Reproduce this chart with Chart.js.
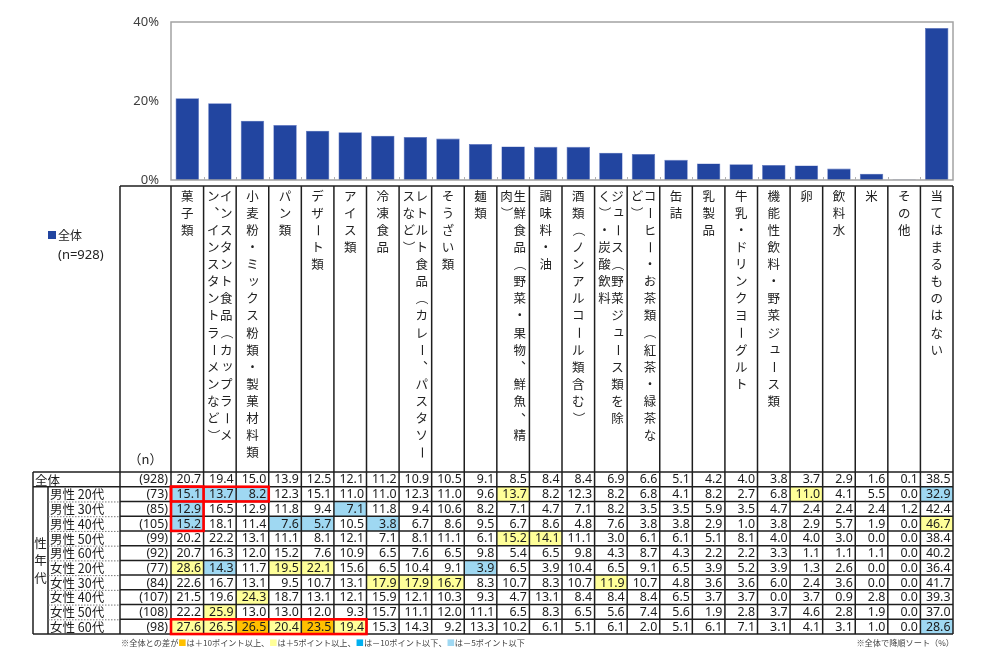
<!DOCTYPE html>
<html><head><meta charset="utf-8">
<script src="https://cdn.jsdelivr.net/npm/chart.js@4"></script>
<style>html,body{margin:0;padding:0;background:#fff}canvas{display:block}</style>
</head><body>
<canvas id="c" width="989" height="661"></canvas>
<script>
// ---------- DATA ----------
const categories = ['菓子類','インスタント食品（カップラーメン、インスタントラーメンなど）','小麦粉・ミックス粉類・製菓材料類','パン類','デザート類','アイス類','冷凍食品','レトルト食品（カレー、パスタソースなど）','そうざい類','麺類','生鮮食品（野菜・果物、鮮魚、精肉）','調味料・油','酒類（ノンアルコール類含む）','ジュース（野菜ジュース類を除く）・炭酸飲料','コーヒー・お茶類（紅茶・緑茶など）','缶詰','乳製品','牛乳・ドリンクヨーグルト','機能性飲料・野菜ジュース類','卵','飲料水','米','その他','当てはまるものはない'];
const headerLines = [['菓子類'],['インスタント食品（カップラーメ','ン、インスタントラーメンなど）'],['小麦粉・ミックス粉類・製菓材料類'],['パン類'],['デザート類'],['アイス類'],['冷凍食品'],['レトルト食品（カレー、パスタソー','スなど）'],['そうざい類'],['麺類'],['生鮮食品（野菜・果物、鮮魚、精','肉）'],['調味料・油'],['酒類（ノンアルコール類含む）'],['ジュース（野菜ジュース類を除','く）・炭酸飲料'],['コーヒー・お茶類（紅茶・緑茶な','ど）'],['缶詰'],['乳製品'],['牛乳・ドリンクヨーグルト'],['機能性飲料・野菜ジュース類'],['卵'],['飲料水'],['米'],['その他'],['当てはまるものはない']];
const totalLabel = '全体';
const totalN = 928;
const totalValues = [20.7,19.4,15.0,13.9,12.5,12.1,11.2,10.9,10.5,9.1,8.5,8.4,8.4,6.9,6.6,5.1,4.2,4.0,3.8,3.7,2.9,1.6,0.1,38.5];
const yTicks = [0,20,40];
const groupTitle = '性年代';
const rowLabels = ['男性 20代','男性 30代','男性 40代','男性 50代','男性 60代','女性 20代','女性 30代','女性 40代','女性 50代','女性 60代'];
const rowN = [73,85,105,99,92,77,84,107,108,98];
const male20   = [15.1,13.7,8.2,12.3,15.1,11.0,11.0,12.3,11.0,9.6,13.7,8.2,12.3,8.2,6.8,4.1,8.2,2.7,6.8,11.0,4.1,5.5,0.0,32.9];
const male30   = [12.9,16.5,12.9,11.8,9.4,7.1,11.8,9.4,10.6,8.2,7.1,4.7,7.1,8.2,3.5,3.5,5.9,3.5,4.7,2.4,2.4,2.4,1.2,42.4];
const male40   = [15.2,18.1,11.4,7.6,5.7,10.5,3.8,6.7,8.6,9.5,6.7,8.6,4.8,7.6,3.8,3.8,2.9,1.0,3.8,2.9,5.7,1.9,0.0,46.7];
const male50   = [20.2,22.2,13.1,11.1,8.1,12.1,7.1,8.1,11.1,6.1,15.2,14.1,11.1,3.0,6.1,6.1,5.1,8.1,4.0,4.0,3.0,0.0,0.0,38.4];
const male60   = [20.7,16.3,12.0,15.2,7.6,10.9,6.5,7.6,6.5,9.8,5.4,6.5,9.8,4.3,8.7,4.3,2.2,2.2,3.3,1.1,1.1,1.1,0.0,40.2];
const female20 = [28.6,14.3,11.7,19.5,22.1,15.6,6.5,10.4,9.1,3.9,6.5,3.9,10.4,6.5,9.1,6.5,3.9,5.2,3.9,1.3,2.6,0.0,0.0,36.4];
const female30 = [22.6,16.7,13.1,9.5,10.7,13.1,17.9,17.9,16.7,8.3,10.7,8.3,10.7,11.9,10.7,4.8,3.6,3.6,6.0,2.4,3.6,0.0,0.0,41.7];
const female40 = [21.5,19.6,24.3,18.7,13.1,12.1,15.9,12.1,10.3,9.3,4.7,13.1,8.4,8.4,8.4,6.5,3.7,3.7,0.0,3.7,0.9,2.8,0.0,39.3];
const female50 = [22.2,25.9,13.0,13.0,12.0,9.3,15.7,11.1,12.0,11.1,6.5,8.3,6.5,5.6,7.4,5.6,1.9,2.8,3.7,4.6,2.8,1.9,0.0,37.0];
const female60 = [27.6,26.5,26.5,20.4,23.5,19.4,15.3,14.3,9.2,13.3,10.2,6.1,5.1,6.1,2.0,5.1,6.1,7.1,3.1,4.1,3.1,1.0,0.0,28.6];
const rowValues = [male20,male30,male40,male50,male60,female20,female30,female40,female50,female60];
// highlighted boxes (group row index range, column range)
const redBoxes = [{r0:0,r1:0,c0:0,c1:2},{r0:0,r1:2,c0:0,c1:0},{r0:9,r1:9,c0:0,c1:5}];
const noteLeft = ['※全体との差が','■','は＋10ポイント以上、','■','は＋5ポイント以上、','■','は－10ポイント以下、','■','は－5ポイント以下'];
const noteRight = '※全体で降順ソート（%）';

// ---------- STYLE ----------
const BAR = '#2245a0';
const C_ORANGE = '#ffc000', C_YELLOW = '#ffff99', C_BLUE = '#00b0f0', C_LBLUE = '#9fd8f2';
const noteColors = [null, C_ORANGE, null, C_YELLOW, null, C_BLUE, null, C_LBLUE, null];
const JP = '"Noto Sans CJK JP","Noto Sans",sans-serif';
const NUM = '"Noto Sans",sans-serif';
const HEAD_TOP = 186, BODY_TOP = 472, ROW_H = 14.73;
const X0 = 33, SUBX = 48, NX = 120;

function cellColor(v, t) {
  const d = Math.round((v - t) * 10) / 10;
  if (d >= 10) return C_ORANGE;
  if (d >= 5) return C_YELLOW;
  if (d <= -10) return C_BLUE;
  if (d <= -5) return C_LBLUE;
  return null;
}

function drawVertical(ctx, str, cx, y0, pitch, fs) {
  for (let i = 0; i < str.length; i++) {
    const ch = str[i];
    const cy = y0 + i * pitch;
    ctx.save();
    ctx.translate(cx, cy);
    if ('ー（）－〜'.includes(ch)) ctx.rotate(Math.PI / 2);
    else if ('、。'.includes(ch)) ctx.translate(fs * 0.6, -fs * 0.6);
    else if ('ッョャュィ'.includes(ch)) ctx.translate(fs * 0.1, -fs * 0.12);
    ctx.fillText(ch, 0, 0);
    ctx.restore();
  }
}

function hline(ctx, x1, x2, y) { ctx.beginPath(); ctx.moveTo(x1, y); ctx.lineTo(x2, y); ctx.stroke(); }
function vline(ctx, x, y1, y2) { ctx.beginPath(); ctx.moveTo(x, y1); ctx.lineTo(x, y2); ctx.stroke(); }

const tablePlugin = {
  id: 'tablePlugin',
  afterDraw(chart) {
    const ctx = chart.ctx, ca = chart.chartArea, xs = chart.scales.x;
    const N = categories.length;
    const cw = xs.getPixelForValue(1) - xs.getPixelForValue(0);
    const colL = i => xs.getPixelForValue(i) - cw / 2;
    const tRight = colL(N);
    const nRows = rowLabels.length + 1;
    const rowTop = r => BODY_TOP + r * ROW_H;
    const BOTTOM = rowTop(nRows);
    ctx.save();

    // plot frame
    ctx.strokeStyle = '#a3a3a3'; ctx.lineWidth = 1.5;
    ctx.strokeRect(ca.left, ca.top, ca.right - ca.left, ca.bottom - ca.top);
    ctx.lineWidth = 1; ctx.strokeStyle = '#b0b0b0';
    for (let i = 1; i < N; i++) vline(ctx, Math.round(colL(i)) + 0.5, ca.bottom, ca.bottom - 3);

    // legend
    ctx.fillStyle = BAR; ctx.fillRect(48, 231, 8, 8);
    ctx.fillStyle = '#222'; ctx.textBaseline = 'middle'; ctx.textAlign = 'left';
    ctx.font = '12px ' + JP; ctx.fillText(chart.data.datasets[0].label, 58, 235.5);
    ctx.font = '13px ' + NUM; ctx.fillText('(n=' + totalN + ')', 58, 255);

    // cell fills
    for (let r = 0; r < rowValues.length; r++) {
      for (let c = 0; c < N; c++) {
        const col = cellColor(rowValues[r][c], totalValues[c]);
        if (col) { ctx.fillStyle = col; ctx.fillRect(colL(c), rowTop(r + 1), cw, ROW_H); }
      }
    }

    // grid lines
    ctx.strokeStyle = '#1e1e1e'; ctx.lineWidth = 1.5;
    hline(ctx, NX, tRight, HEAD_TOP);
    vline(ctx, NX, HEAD_TOP, BOTTOM);
    for (let i = 0; i <= N; i++) vline(ctx, colL(i), HEAD_TOP, BOTTOM);
    hline(ctx, X0, tRight, BODY_TOP);
    hline(ctx, X0, tRight, rowTop(1));
    hline(ctx, X0, tRight, BOTTOM);
    vline(ctx, X0, BODY_TOP, BOTTOM);
    vline(ctx, SUBX, rowTop(1), BOTTOM);
    for (let r = 2; r < nRows; r++) hline(ctx, NX, tRight, rowTop(r));
    ctx.save();
    ctx.strokeStyle = '#777'; ctx.lineWidth = 1; ctx.setLineDash([1.5, 1.5]);
    for (let r = 2; r < nRows; r++) hline(ctx, SUBX, NX, rowTop(r) + 0.5);
    ctx.restore();

    // header vertical text
    ctx.fillStyle = '#222'; ctx.textAlign = 'center'; ctx.textBaseline = 'middle';
    const hfs = 12.5;
    ctx.font = hfs + 'px ' + JP;
    for (let c = 0; c < N; c++) {
      const cx = xs.getPixelForValue(c);
      const lines = headerLines[c];
      if (lines.length === 1) drawVertical(ctx, lines[0], cx, 196, 17.1, hfs);
      else lines.forEach((ln, k) => drawVertical(ctx, ln, cx + 6.5 - k * 13, 196, 17.1, hfs));
    }
    ctx.font = '13px ' + JP;
    ctx.fillText('（n）', (NX + colL(0)) / 2, 459);

    // group label
    ctx.font = '12.5px ' + JP;
    drawVertical(ctx, groupTitle, (X0 + SUBX) / 2, 543, 17.5, 12.5);

    // row labels & values
    const allLabels = [totalLabel].concat(rowLabels);
    const allN = [totalN].concat(rowN);
    const allVals = [totalValues].concat(rowValues);
    for (let r = 0; r < nRows; r++) {
      const cy = rowTop(r) + ROW_H / 2 + 0.5;
      ctx.textAlign = 'left'; ctx.font = '12.5px ' + JP; ctx.fillStyle = '#1a1a1a';
      ctx.fillText(allLabels[r], r === 0 ? X0 + 2 : SUBX + 2, cy);
      ctx.textAlign = 'right'; ctx.font = '12.4px ' + NUM;
      ctx.fillText('(' + allN[r] + ')', colL(0) - 3, cy);
      for (let c = 0; c < N; c++) ctx.fillText(allVals[r][c].toFixed(1), colL(c + 1) - 2.5, cy);
    }

    // red boxes
    ctx.strokeStyle = '#ff0000'; ctx.lineWidth = 2.6;
    redBoxes.forEach(b => {
      ctx.strokeRect(colL(b.c0), rowTop(b.r0 + 1), colL(b.c1 + 1) - colL(b.c0), rowTop(b.r1 + 2) - rowTop(b.r0 + 1));
    });

    // footnotes
    ctx.textAlign = 'left'; ctx.font = '8.2px ' + JP;
    let x = 121; const fy = 642.5;
    noteLeft.forEach((t, i) => {
      ctx.fillStyle = noteColors[i] || '#444';
      ctx.fillText(t, x, fy);
      x += ctx.measureText(t).width;
    });
    ctx.fillStyle = '#444'; ctx.textAlign = 'right';
    ctx.fillText(noteRight, tRight + 1, fy);
    ctx.restore();
  }
};

new Chart(document.getElementById('c').getContext('2d'), {
  type: 'bar',
  data: {
    labels: categories,
    datasets: [{ label: totalLabel, data: totalValues, backgroundColor: BAR, borderColor: '#5a72c0', borderWidth: 0.6, barPercentage: 0.72, categoryPercentage: 1 }]
  },
  options: {
    responsive: false, animation: false,
    layout: { padding: { top: 22, right: 36, bottom: 481, left: 0 } },
    plugins: { legend: { display: false }, tooltip: { enabled: false } },
    scales: {
      x: { ticks: { display: false }, grid: { display: false, drawTicks: false }, border: { display: false } },
      y: {
        min: yTicks[0], max: yTicks[yTicks.length - 1],
        afterBuildTicks(s) { s.ticks = yTicks.map(v => ({ value: v })); },
        afterFit(s) { s.width = 171; },
        ticks: { callback: v => v + '%', padding: 12, color: '#404040', font: { size: 13, family: NUM } },
        grid: { display: false, drawTicks: false }, border: { display: false }
      }
    }
  },
  plugins: [tablePlugin]
});
</script>
</body></html>
